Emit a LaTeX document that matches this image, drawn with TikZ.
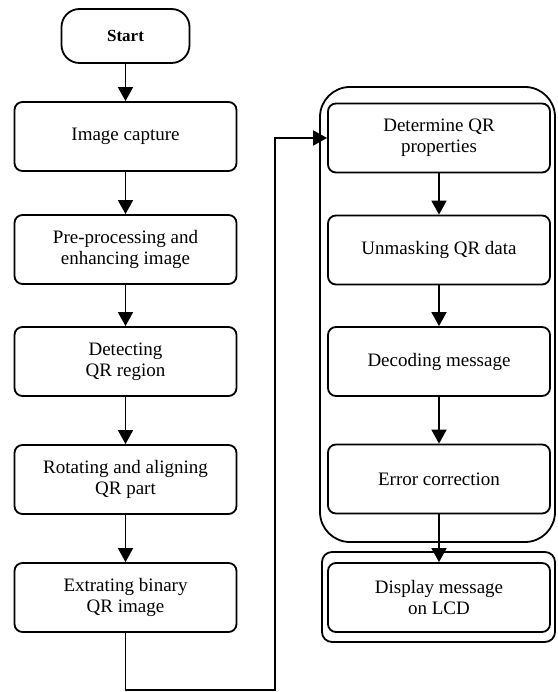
\documentclass[tikz,border=0pt]{standalone}
\usepackage{fontspec}
\setmainfont{Liberation Serif}
\usetikzlibrary{arrows.meta}
\begin{document}
\begin{tikzpicture}[x=1pt,y=-1pt,
  every node/.style={font=\fontsize{19}{21}\selectfont, align=center},
  box/.style={draw, line width=1.8pt, rounded corners=8pt, minimum width=222pt, minimum height=69pt, inner sep=0pt},
  arr/.style={line width=1.8pt, -{Triangle[length=14pt,width=15pt]}},
  ln/.style={line width=1.8pt}]
\useasboundingbox (0,0) rectangle (557,692);
\node[draw, line width=1.8pt, rounded corners=18pt, minimum width=128pt, minimum height=54pt, inner sep=0pt, font=\fontsize{17}{20}\selectfont\bfseries] (start) at (125.5,36) {Start};
\node[box] (cap) at (125.5,136.5) {Image capture};
\node[box] (pre) at (125.5,249.5) {Pre-processing and\\enhancing image};
\node[box] (det) at (125.5,361.5) {Detecting\\QR region};
\node[box] (rot) at (125.5,479.5) {Rotating and aligning\\QR part};
\node[box] (ext) at (125.5,597.5) {Extrating binary\\QR image};
\node[draw, line width=1.8pt, rounded corners=30pt, minimum width=235pt, minimum height=455pt, inner sep=0pt] (grp) at (437.5,314.5) {};
\node[draw, line width=1.8pt, rounded corners=10pt, minimum width=233pt, minimum height=90pt, inner sep=0pt] (dgrp) at (438.5,597) {};
\node[box] (prop) at (439,138) {Determine QR\\properties};
\node[box] (unm) at (439,250) {Unmasking QR data};
\node[box] (dec) at (439,361.5) {Decoding message};
\node[box] (err) at (439,479) {Error correction};
\node[box] (disp) at (439,597.5) {Display message\\on LCD};
\coordinate (c1) at (125.5,690);
\coordinate (c2) at (275,690);
\coordinate (c3) at (275,138);
\draw[arr] (start) -- (cap);
\draw[arr] (cap) -- (pre);
\draw[arr] (pre) -- (det);
\draw[arr] (det) -- (rot);
\draw[arr] (rot) -- (ext);
\draw[arr] (ext.south) -- (c1) -- (c2) -- (c3) -- (prop.west);
\draw[arr] (prop) -- (unm);
\draw[arr] (unm) -- (dec);
\draw[arr] (dec) -- (err);
\draw[arr] (err) -- (disp);
\end{tikzpicture}
\end{document}
